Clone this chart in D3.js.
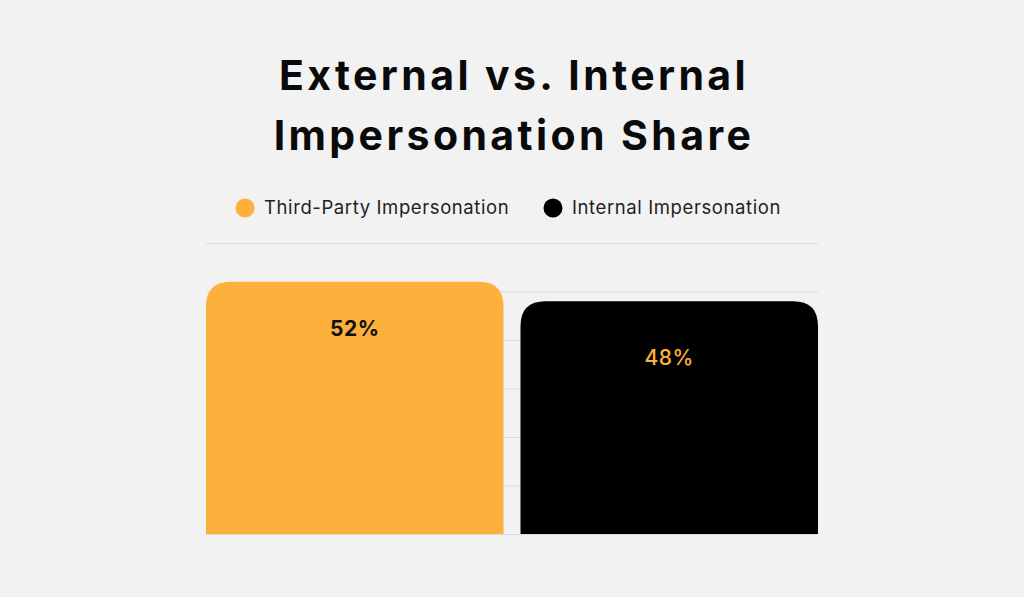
<!DOCTYPE html>
<html><head><meta charset="utf-8">
<script src="https://cdn.jsdelivr.net/npm/d3@7"></script>
<style>
html,body{margin:0;padding:0;background:#f2f2f2;}
svg{display:block;font-family:Inter, "Noto Sans", sans-serif;}
</style></head>
<body><svg id="chart" width="1024" height="597"></svg>
<script>
const titleLines = ["External vs. Internal", "Impersonation Share"];
const categories = ["Third-Party Impersonation", "Internal Impersonation"];
const values = [52, 48];
const barColors = ["#fdb03c", "#000000"];
const labelColors = ["#111111", "#fdb03c"];
const yTicks = [0, 10, 20, 30, 40, 50, 60];

const svg = d3.select("#chart");
const W = 1024, H = 597;
svg.append("rect").attr("width", W).attr("height", H).attr("fill", "#f2f2f2");

const x = d3.scaleBand().domain(categories).range([206, 818]).paddingInner(0.054).paddingOuter(0);
const y = d3.scaleLinear().domain([0, 60]).range([534, 243]);

// title
svg.append("g").selectAll("text").data(titleLines).join("text")
  .attr("x", W/2 + 2).attr("y", (d,i) => 90 + i*60)
  .attr("text-anchor", "middle")
  .attr("font-size", 41).attr("font-weight", 700)
  .attr("letter-spacing", 3.4)
  .attr("fill", "#0a0a0a")
  .text(d => d);

// legend
const legendX = [245, 553];
const lg = svg.append("g").selectAll("g").data(categories).join("g")
  .attr("transform", (d,i) => `translate(${legendX[i]},208)`);
lg.append("circle").attr("r", 9.5).attr("fill", (d,i) => barColors[i]);
lg.append("text").attr("x", 19).attr("dy", "0.35em")
  .attr("font-size", 18.5).attr("fill", "#222").attr("letter-spacing", 0.6)
  .text(d => d);

// gridlines
svg.append("g").selectAll("line").data(yTicks).join("line")
  .attr("x1", 206).attr("x2", 818)
  .attr("y1", d => y(d) + 0.5).attr("y2", d => y(d) + 0.5)
  .attr("stroke", "#dcdcdc").attr("stroke-width", 1);

// bars with rounded top corners
const r = 25;
function barPath(x0, w, yTop, yBot) {
  return `M${x0},${yBot} L${x0},${yTop + r} Q${x0},${yTop} ${x0 + r},${yTop} L${x0 + w - r},${yTop} Q${x0 + w},${yTop} ${x0 + w},${yTop + r} L${x0 + w},${yBot} Z`;
}
svg.append("g").selectAll("path").data(categories).join("path")
  .attr("d", (d,i) => barPath(x(d), x.bandwidth(), y(values[i]), y(0)))
  .attr("fill", (d,i) => barColors[i]);

// value labels
const labelOffset = [54, 64];
svg.append("g").selectAll("text").data(categories).join("text")
  .attr("x", d => x(d) + x.bandwidth()/2)
  .attr("y", (d,i) => y(values[i]) + labelOffset[i])
  .attr("text-anchor", "middle")
  .attr("font-size", 21).attr("font-weight", (d,i) => i === 0 ? 700 : 500)
  .attr("letter-spacing", 0.5)
  .attr("fill", (d,i) => labelColors[i])
  .text((d,i) => values[i] + "%");
</script></body></html>
